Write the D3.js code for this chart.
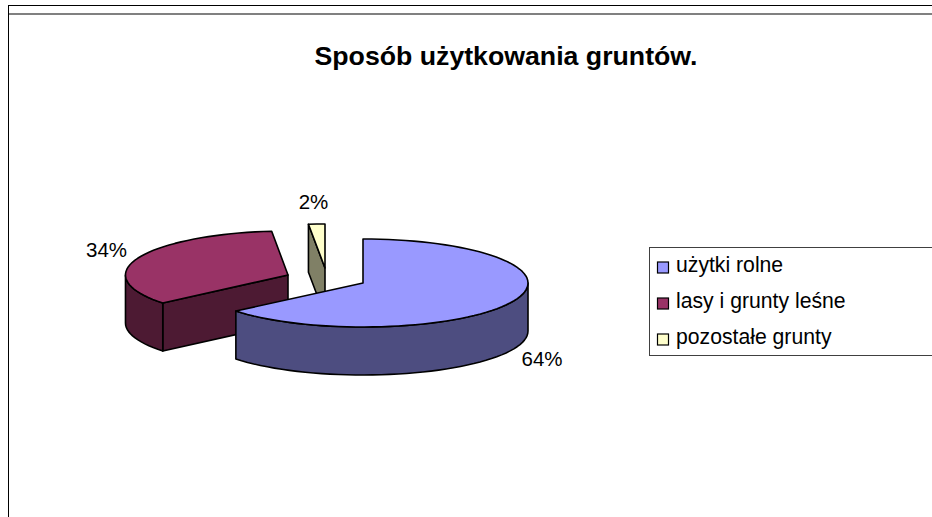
<!DOCTYPE html>
<html><head><meta charset="utf-8">
<style>html,body{margin:0;padding:0;background:#fff}svg{display:block}text{font-family:"Liberation Sans",Arial,sans-serif;fill:#000}</style>
<script src="https://cdnjs.cloudflare.com/ajax/libs/d3/7.8.5/d3.min.js"></script>
</head><body><svg id="c" width="932" height="517"></svg>
<script>
const categories = ["użytki rolne","lasy i grunty leśne","pozostałe grunty"];
const values = [64.0,34.4,1.6];
const topColors = ["#9999ff","#993366","#ffffcc"];
const sideColors = ["#4d4d80","#4d1a33","#808066"];
const title = "Sposób użytkowania gruntów.";
const explode = [[0,0],[-75,-8],[-38,-15]];
const radiusK = [1,0.985,1];
const labelPos = [[542,366],[106.5,257],[313.5,209]];

const W=932,H=517,cx=363,cy=283,rx=165,ry=44,depth=48;
const svg=d3.select("#c");
const sx=d3.scaleLinear().domain([-1,1]).range([-rx,rx]);
const sy=d3.scaleLinear().domain([-1,1]).range([-ry,ry]);
const pie=d3.pie().sort(null).value(d=>d)(values);
const line=d3.line();
const pt=(a,k,ox,oy,z=0)=>[cx+ox+sx(Math.sin(a))*k, cy+oy-sy(Math.cos(a))+z];
function arcPts(a0,a1,k,ox,oy,z){
  const n=Math.max(2,Math.ceil(Math.abs(a1-a0)/(Math.PI/60)));
  return d3.range(n+1).map(i=>pt(a0+(a1-a0)*i/n,k,ox,oy,z));
}
const stroke={stroke:"#000","stroke-width":1.6,"stroke-linejoin":"round"};
function poly(pts,fill){
  const p=svg.append("path").attr("d",line(pts)+"Z").attr("fill",fill);
  Object.entries(stroke).forEach(([k,v])=>p.attr(k,v));
}
// frame
svg.append("line").attr("x1",8.5).attr("y1",5.5).attr("x2",W).attr("y2",5.5).attr("stroke","#000");
svg.append("line").attr("x1",8.5).attr("y1",14).attr("x2",W).attr("y2",14).attr("stroke","#808080").attr("stroke-width",2);
svg.append("line").attr("x1",8.5).attr("y1",5).attr("x2",8.5).attr("y2",H).attr("stroke","#000");

[2,1,0].forEach(i=>{
  const d=pie[i],[ox,oy]=explode[i],k=radiusK[i];
  const a0=d.startAngle,a1=d.endAngle;
  const apex=[cx+ox,cy+oy],apexB=[cx+ox,cy+oy+depth];
  const pS=pt(a0,k,ox,oy);
  if(i>0) poly([pS,apex,apexB,pt(a0,k,ox,oy,depth)],sideColors[i]);
  const w0=Math.max(a0,Math.PI/2),w1=Math.min(a1,3*Math.PI/2);
  if(w1>w0) poly(arcPts(w0,w1,k,ox,oy,0).concat(arcPts(w1,w0,k,ox,oy,depth)),sideColors[i]);
  poly([apex].concat(arcPts(a0,a1,k,ox,oy,0)),topColors[i]);
});
svg.selectAll(".pct").data(pie).join("text").attr("class","pct")
  .attr("x",(d,i)=>labelPos[i][0]).attr("y",(d,i)=>labelPos[i][1])
  .attr("text-anchor","middle").attr("font-size",20.5)
  .text(d=>d3.format(".0f")(d.data)+"%");
svg.append("text").attr("x",506).attr("y",65).attr("text-anchor","middle")
  .attr("font-size",26.7).attr("font-weight","bold").text(title);
svg.append("rect").attr("x",649.5).attr("y",247.5).attr("width",W).attr("height",108)
  .attr("fill","#fff").attr("stroke","#404040");
const ly=d3.scalePoint().domain(categories).range([267.5,339.5]);
categories.forEach((c,i)=>{
  svg.append("rect").attr("x",657.5).attr("y",ly(c)-5.5).attr("width",11).attr("height",11)
    .attr("fill",topColors[i]).attr("stroke","#000").attr("stroke-width",1.2);
  svg.append("text").attr("x",676).attr("y",ly(c)+4.5).attr("font-size",21.2).text(c);
});
</script></body></html>
